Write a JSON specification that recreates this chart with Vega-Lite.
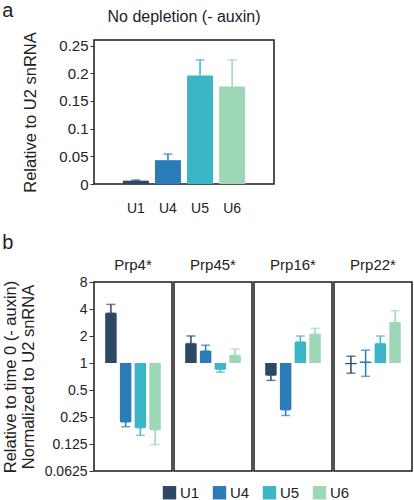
{
  "$schema": "https://vega.github.io/schema/vega-lite/v6.json",
  "padding": {"left": 2, "top": 1, "right": 2, "bottom": 0},
  "config": {
    "font": "Liberation Sans",
    "view": {"stroke": "#1a1a1a", "strokeWidth": 1.5},
    "axis": {"grid": false, "domain": false, "labelFont": "Liberation Sans", "labelFontSize": 14, "labelColor": "#222", "titleFont": "Liberation Sans", "titleFontSize": 16.5, "titleFontWeight": "normal", "titleColor": "#222", "tickColor": "#333", "tickSize": 4, "tickWidth": 1, "labelOverlap": false},
    "legend": {"labelFont": "Liberation Sans", "labelColor": "#222"}
  },
  "title": {"text": "a", "anchor": "start", "frame": "bounds", "fontSize": 20, "fontWeight": "normal", "color": "#222", "offset": -13},
  "resolve": {"legend": {"color": "independent"}},
  "spacing": 17,
  "vconcat": [
    {
      "title": {"text": "No depletion (- auxin)", "fontSize": 16, "fontWeight": "normal", "color": "#222", "offset": 7, "anchor": "middle"},
      "width": 180,
      "height": 144,
      "data": {"values": [
        {"snRNA": "U1", "value": 0.006, "hi": 0.007},
        {"snRNA": "U4", "value": 0.043, "hi": 0.054},
        {"snRNA": "U5", "value": 0.196, "hi": 0.224},
        {"snRNA": "U6", "value": 0.176, "hi": 0.224}
      ]},
      "encoding": {
        "x": {"field": "snRNA", "type": "nominal", "sort": ["U1", "U4", "U5", "U6"], "scale": {"paddingInner": 0.19, "paddingOuter": 0.9}, "axis": {"title": null, "labelAngle": 0, "ticks": false, "labelPadding": 17, "labelFontSize": 14}},
        "color": {"field": "snRNA", "type": "nominal", "scale": {"domain": ["U1", "U4", "U5", "U6"], "range": ["#2c4864", "#2b7bb9", "#3cb5c6", "#9dd7b5"]}, "legend": null}
      },
      "layer": [
        {"mark": {"type": "bar"}, "encoding": {"y": {"field": "value", "type": "quantitative", "title": "Relative to U2 snRNA", "scale": {"domain": [0, 0.25]}, "axis": {"values": [0, 0.05, 0.1, 0.15, 0.2, 0.25], "format": "~g", "titlePadding": 20, "labelFontSize": 15}}}},
        {"mark": {"type": "rule", "strokeWidth": 1.5}, "encoding": {"y": {"field": "value", "type": "quantitative", "title": "Relative to U2 snRNA", "axis": {"values": [0, 0.05, 0.1, 0.15, 0.2, 0.25], "format": "~g", "titlePadding": 20, "labelFontSize": 15}}, "y2": {"field": "hi"}}},
        {"mark": {"type": "tick", "thickness": 1.5, "size": 9}, "encoding": {"y": {"field": "hi", "type": "quantitative", "title": "Relative to U2 snRNA", "axis": {"values": [0, 0.05, 0.1, 0.15, 0.2, 0.25], "format": "~g", "titlePadding": 20, "labelFontSize": 15}}}}
      ]
    },
    {
      "title": {"text": "b", "anchor": "start", "frame": "bounds", "fontSize": 20, "fontWeight": "normal", "color": "#222", "offset": 5},
      "data": {"values": [
        {"protein": "Prp4*", "snRNA": "U1", "value": 3.6, "lo": 3.6, "hi": 4.5},
        {"protein": "Prp4*", "snRNA": "U4", "value": 0.22, "lo": 0.195, "hi": 0.22},
        {"protein": "Prp4*", "snRNA": "U5", "value": 0.19, "lo": 0.156, "hi": 0.19},
        {"protein": "Prp4*", "snRNA": "U6", "value": 0.18, "lo": 0.123, "hi": 0.18},
        {"protein": "Prp45*", "snRNA": "U1", "value": 1.65, "lo": 1.65, "hi": 2.0},
        {"protein": "Prp45*", "snRNA": "U4", "value": 1.36, "lo": 1.36, "hi": 1.58},
        {"protein": "Prp45*", "snRNA": "U5", "value": 0.85, "lo": 0.79, "hi": 0.85},
        {"protein": "Prp45*", "snRNA": "U6", "value": 1.22, "lo": 1.22, "hi": 1.43},
        {"protein": "Prp16*", "snRNA": "U1", "value": 0.73, "lo": 0.64, "hi": 0.73},
        {"protein": "Prp16*", "snRNA": "U4", "value": 0.30, "lo": 0.26, "hi": 0.30},
        {"protein": "Prp16*", "snRNA": "U5", "value": 1.72, "lo": 1.72, "hi": 2.0},
        {"protein": "Prp16*", "snRNA": "U6", "value": 2.1, "lo": 2.1, "hi": 2.43},
        {"protein": "Prp22*", "snRNA": "U1", "value": 0.97, "lo": 0.77, "hi": 1.19},
        {"protein": "Prp22*", "snRNA": "U4", "value": 1.04, "lo": 0.71, "hi": 1.39},
        {"protein": "Prp22*", "snRNA": "U5", "value": 1.65, "lo": 1.65, "hi": 2.0},
        {"protein": "Prp22*", "snRNA": "U6", "value": 2.83, "lo": 2.83, "hi": 3.83}
      ]},
      "facet": {"column": {"field": "protein", "type": "nominal", "sort": ["Prp4*", "Prp45*", "Prp16*", "Prp22*"], "header": {"title": null, "labelFontSize": 15, "labelPadding": 8, "labelFont": "Liberation Sans", "labelColor": "#222"}}},
      "spacing": 0,
      "spec": {
        "width": 78,
        "height": 189,
        "encoding": {
          "x": {"field": "snRNA", "type": "nominal", "sort": ["U1", "U4", "U5", "U6"], "scale": {"paddingInner": 0.22, "paddingOuter": 0.76}, "axis": null},
          "color": {"field": "snRNA", "type": "nominal", "scale": {"domain": ["U1", "U4", "U5", "U6"], "range": ["#2c4864", "#2b7bb9", "#3cb5c6", "#9dd7b5"]}, "legend": {"title": null, "orient": "none", "legendX": 68, "legendY": 203, "direction": "horizontal", "symbolType": "square", "symbolSize": 180, "labelFontSize": 15, "symbolStrokeWidth": 0, "symbolOpacity": 1, "columnPadding": 12, "labelOffset": 3}}
        },
        "layer": [
          {"mark": {"type": "bar"}, "encoding": {"y": {"field": "value", "type": "quantitative", "title": ["Relative to time 0 (- auxin)", "Normalized to U2 snRNA"], "scale": {"type": "log", "base": 2, "domain": [0.0625, 8]}, "axis": {"values": [0.0625, 0.125, 0.25, 0.5, 1, 2, 4, 8], "format": "~g", "titlePadding": 8, "titleLineHeight": 18}}, "y2": {"datum": 1}}},
          {"mark": {"type": "rule", "strokeWidth": 1.5}, "encoding": {"y": {"field": "lo", "type": "quantitative", "title": ["Relative to time 0 (- auxin)", "Normalized to U2 snRNA"]}, "y2": {"field": "hi"}}},
          {"mark": {"type": "tick", "thickness": 1.5, "size": 9}, "encoding": {"y": {"field": "hi", "type": "quantitative", "title": ["Relative to time 0 (- auxin)", "Normalized to U2 snRNA"]}}},
          {"mark": {"type": "tick", "thickness": 1.5, "size": 9}, "encoding": {"y": {"field": "lo", "type": "quantitative", "title": ["Relative to time 0 (- auxin)", "Normalized to U2 snRNA"]}}}
        ]
      }
    }
  ]
}
